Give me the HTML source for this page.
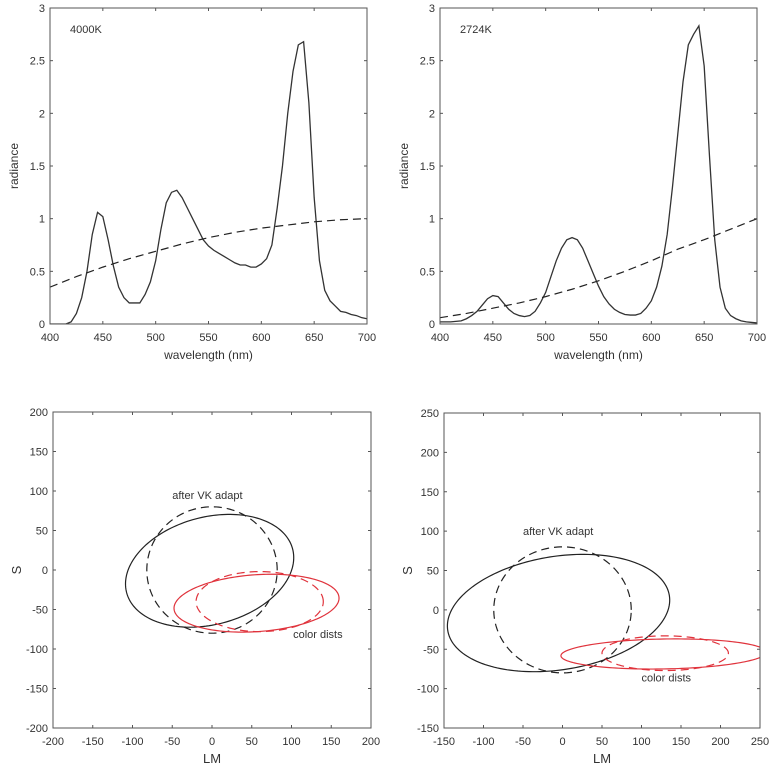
<!DOCTYPE html>
<html><head><meta charset="utf-8"><style>
html,body{margin:0;padding:0;background:#fff;}
svg text{font-family:"Liberation Sans",sans-serif;fill:#333;}
</style></head><body>
<svg id="fig" width="774" height="771" viewBox="0 0 774 771" xmlns="http://www.w3.org/2000/svg"></svg>
<script>
// ---- data ----
const wavelengths = [400,405,410,415,420,425,430,435,440,445,450,455,460,465,470,475,480,485,490,495,500,505,510,515,520,525,530,535,540,545,550,555,560,565,570,575,580,585,590,595,600,605,610,615,620,625,630,635,640,645,650,655,660,665,670,675,680,685,690,695,700];
const spec4000 = [0,0,0,0,0.02,0.1,0.25,0.5,0.85,1.06,1.02,0.8,0.55,0.35,0.25,0.2,0.2,0.2,0.28,0.4,0.6,0.9,1.15,1.25,1.27,1.2,1.1,1.0,0.9,0.8,0.74,0.7,0.67,0.64,0.61,0.58,0.56,0.56,0.54,0.54,0.57,0.62,0.75,1.1,1.5,2.0,2.4,2.65,2.68,2.1,1.2,0.6,0.32,0.22,0.17,0.12,0.11,0.09,0.08,0.06,0.05];
const spec2724 = [0.02,0.02,0.02,0.025,0.03,0.05,0.08,0.12,0.18,0.24,0.27,0.26,0.2,0.14,0.1,0.08,0.07,0.08,0.12,0.2,0.3,0.45,0.6,0.72,0.8,0.82,0.8,0.72,0.6,0.48,0.36,0.26,0.19,0.14,0.11,0.09,0.085,0.085,0.1,0.15,0.22,0.35,0.55,0.85,1.3,1.8,2.3,2.65,2.75,2.83,2.45,1.6,0.8,0.35,0.15,0.08,0.05,0.03,0.02,0.015,0.01];
const refWl = [400,425,450,475,500,525,550,575,600,625,650,675,700];
const ref4000 = [0.35,0.45,0.54,0.62,0.69,0.76,0.82,0.87,0.91,0.94,0.97,0.99,1.0];
const ref2724 = [0.06,0.1,0.15,0.2,0.26,0.33,0.41,0.5,0.6,0.71,0.8,0.9,1.0];
const specXTicks = [400,450,500,550,600,650,700];
const specYTicks = [0,0.5,1,1.5,2,2.5,3];
const specYLabels = ["0","0.5","1","1.5","2","2.5","3"];
// ellipses: [cx, cy, rx, ry, angleDeg]
const ellL_solid = [-3,-1,108,68,15];
const ellL_dash = [0,0,82,80,0];
const ellL_red = [56,-42,104,36,4];
const ellL_redDash = [60,-40,80,38,0];
const ellR_solid = [-5,-4,142,72,9];
const ellR_dash = [0,0,87,80,0];
const ellR_red = [128,-56,130,19,1];
const ellR_redDash = [130,-55,80,22,0];
const ticksL = [-200,-150,-100,-50,0,50,100,150,200];
const ticksRX = [-150,-100,-50,0,50,100,150,200,250];
const ticksRY = [-150,-100,-50,0,50,100,150,200,250];

const NS="http://www.w3.org/2000/svg";
const svg=document.getElementById('fig');
function mk(tag,attrs,parent){const e=document.createElementNS(NS,tag);for(const k in attrs)e.setAttribute(k,attrs[k]);(parent||svg).appendChild(e);return e;}

function panel(o){
  const g=mk('g',{});
  
  
  const sx=v=>o.x0+(v-o.xmin)/(o.xmax-o.xmin)*(o.x1-o.x0);
  const sy=v=>o.y1-(v-o.ymin)/(o.ymax-o.ymin)*(o.y1-o.y0);
  const clipId='c'+o.name;
  const cp=mk('clipPath',{id:clipId},g);
  mk('rect',{x:o.x0,y:o.y0,width:o.x1-o.x0,height:o.y1-o.y0},cp);
  const marks=mk('g',{'clip-path':'url(#'+clipId+')'},g);
  o.draw(marks,sx,sy);
  const box=mk('rect',{x:o.x0,y:o.y0,width:o.x1-o.x0,height:o.y1-o.y0,fill:'none',stroke:'#555','stroke-width':1},g);
  
  
  o.xt.forEach((v,i)=>{const X=sx(v);
    mk('line',{x1:X,x2:X,y1:o.y1,y2:o.y1-3,stroke:'#555'},g);
    mk('line',{x1:X,x2:X,y1:o.y0,y2:o.y0+3,stroke:'#555'},g);
    const t=mk('text',{x:X,y:o.y1+17,'text-anchor':'middle','font-size':11},g);t.textContent=o.xl?o.xl[i]:String(v);
    
    });
  o.yt.forEach((v,i)=>{const Y=sy(v);
    mk('line',{x1:o.x0,x2:o.x0+3,y1:Y,y2:Y,stroke:'#555'},g);
    mk('line',{x1:o.x1,x2:o.x1-3,y1:Y,y2:Y,stroke:'#555'},g);
    const t=mk('text',{x:o.x0-5,y:Y+4,'text-anchor':'end','font-size':11},g);t.textContent=o.yl?o.yl[i]:String(v);
    
    });
  const xt=mk('text',{x:(o.x0+o.x1)/2,y:o.y1+35,'text-anchor':'middle','font-size':o.xfs||12},g);xt.textContent=o.xtitle;
  
  
  const yc=(o.y0+o.y1)/2, yx=o.x0-32;
  const yt=mk('text',{x:yx,y:yc,'text-anchor':'middle','font-size':o.yfs||12,transform:`rotate(-90 ${yx} ${yc})`},g);yt.textContent=o.ytitle;
  
  
  if(o.after)o.after(g,sx,sy);
}
function line(parent,xs,ys,sx,sy,attrs,name){
  const d=xs.map((x,i)=>(i?'L':'M')+sx(x).toFixed(2)+','+sy(ys[i]).toFixed(2)).join('');
  const p=mk('path',Object.assign({d:d,fill:'none'},attrs),parent);
  
  
}
function ellipse(parent,e,sx,sy,attrs,name){
  const pts=[];
  for(let i=0;i<=180;i++){const t=i/180*2*Math.PI,a=e[4]*Math.PI/180;
    const x=e[0]+e[2]*Math.cos(t)*Math.cos(a)-e[3]*Math.sin(t)*Math.sin(a);
    const y=e[1]+e[2]*Math.cos(t)*Math.sin(a)+e[3]*Math.sin(t)*Math.cos(a);
    pts.push((i?'L':'M')+sx(x).toFixed(2)+','+sy(y).toFixed(2));}
  const p=mk('path',Object.assign({d:pts.join('')+'Z',fill:'none'},attrs),parent);
  
  
}
function label(parent,txt,x,y,name){const t=mk('text',{x:x,y:y,'font-size':11},parent);t.textContent=txt;
  
  }

const solidBlk={stroke:'#222','stroke-width':1.2};
const dashBlk={stroke:'#222','stroke-width':1.2,'stroke-dasharray':'8,5'};
const solidRed={stroke:'#e0333c','stroke-width':1.2};
const dashRed={stroke:'#e0333c','stroke-width':1.2,'stroke-dasharray':'8,5'};

panel({name:'spectrum-4000k',x0:50,x1:367,y0:8,y1:324,xmin:400,xmax:700,ymin:0,ymax:3,xt:specXTicks,yt:specYTicks,yl:specYLabels,xtitle:'wavelength (nm)',ytitle:'radiance',
  draw:(g,sx,sy)=>{line(g,wavelengths,spec4000,sx,sy,{stroke:'#333','stroke-width':1.3},'spectrum-line');line(g,refWl,ref4000,sx,sy,dashBlk,'reference-dashed-line');},
  after:(g)=>label(g,'4000K',70,33,'panel-label')});
panel({name:'spectrum-2724k',x0:440,x1:757,y0:8,y1:324,xmin:400,xmax:700,ymin:0,ymax:3,xt:specXTicks,yt:specYTicks,yl:specYLabels,xtitle:'wavelength (nm)',ytitle:'radiance',
  draw:(g,sx,sy)=>{line(g,wavelengths,spec2724,sx,sy,{stroke:'#333','stroke-width':1.3},'spectrum-line');line(g,refWl,ref2724,sx,sy,dashBlk,'reference-dashed-line');},
  after:(g)=>label(g,'2724K',460,33,'panel-label')});
panel({name:'ellipses-4000k',x0:53,x1:371,y0:412,y1:728,xmin:-200,xmax:200,ymin:-200,ymax:200,xt:ticksL,yt:ticksL,xtitle:'LM',ytitle:'S',xfs:13,yfs:13,
  draw:(g,sx,sy)=>{ellipse(g,ellL_solid,sx,sy,solidBlk,'ellipse-original');ellipse(g,ellL_dash,sx,sy,dashBlk,'ellipse-after-vk-adapt');ellipse(g,ellL_red,sx,sy,solidRed,'ellipse-color-dists');ellipse(g,ellL_redDash,sx,sy,dashRed,'ellipse-color-dists-dashed');},
  after:(g,sx,sy)=>{label(g,'after VK adapt',sx(-50),sy(90),'annotation-after-vk');label(g,'color dists',sx(102),sy(-86),'annotation-color-dists');}});
panel({name:'ellipses-2724k',x0:444,x1:760,y0:413,y1:728,xmin:-150,xmax:250,ymin:-150,ymax:250,xt:ticksRX,yt:ticksRY,xtitle:'LM',ytitle:'S',xfs:13,yfs:13,
  draw:(g,sx,sy)=>{ellipse(g,ellR_solid,sx,sy,solidBlk,'ellipse-original');ellipse(g,ellR_dash,sx,sy,dashBlk,'ellipse-after-vk-adapt');ellipse(g,ellR_red,sx,sy,solidRed,'ellipse-color-dists');ellipse(g,ellR_redDash,sx,sy,dashRed,'ellipse-color-dists-dashed');},
  after:(g,sx,sy)=>{label(g,'after VK adapt',sx(-50),sy(95),'annotation-after-vk');label(g,'color dists',sx(100),sy(-91),'annotation-color-dists');}});
</script>
</body></html>
